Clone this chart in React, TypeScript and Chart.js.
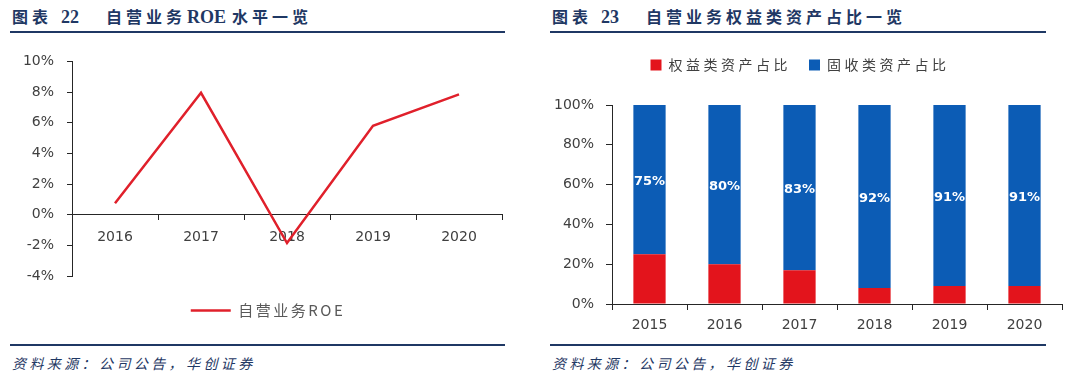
import React, { useEffect, useRef } from "react";
import { Chart, registerables } from "chart.js";
Chart.register(...registerables);

// ---------- data ----------
const roeYears = ["2016", "2017", "2018", "2019", "2020"];
const roeValues = [0.75, 7.95, -1.85, 5.8, 7.85];
const roeSeriesName = "自营业务ROE";
const roeTickMin = -4;
const roeTickMax = 10;
const roeTickStep = 2;

const assetYears = ["2015", "2016", "2017", "2018", "2019", "2020"];
const equityShare = [25, 20, 17, 8, 9, 9];
const fixedIncomeShare = [75, 80, 83, 92, 91, 91];
const equityName = "权益类资产占比";
const fixedIncomeName = "固收类资产占比";
const shareTickMin = 0;
const shareTickMax = 100;
const shareTickStep = 20;

const titleWord = "图表";
const leftTitleNo = "22";
const leftTitleA = "自营业务";
const leftTitleB = "ROE";
const leftTitleC = "水平一览";
const rightTitleNo = "23";
const rightTitle = "自营业务权益类资产占比一览";
const sourceText = "资料来源：公司公告，华创证券";

// ---------- styles ----------
const NAVY = "#1F3864";
const LINE_RED = "#E0202B";
const BAR_RED = "#E3141C";
const BAR_BLUE = "#0C5CB5";
const AXIS = "#262626";
const TICK_COLOR = "#404040";
const tickFont = { family: "'DejaVu Sans'", size: 14 };
const cjkFamily = "'Noto Sans CJK SC', 'Noto Sans', sans-serif";

const legendSpacingPlugin = {
  id: "legendSpacing",
  beforeLayout(chart: any, _args: any, opts: any) {
    const lg: any = chart.legend;
    if (!lg || lg._patched) return;
    lg._patched = true;
    const origFit = lg.fit.bind(lg);
    const origDraw = lg.draw.bind(lg);
    lg.fit = function () {
      const ctx: any = chart.ctx;
      ctx.save();
      ctx.letterSpacing = opts.spacing || "0px";
      origFit();
      ctx.restore();
      lg.height += opts.extra || 0;
    };
    lg.draw = function () {
      const ctx: any = chart.ctx;
      ctx.save();
      ctx.letterSpacing = opts.spacing || "0px";
      ctx.translate(opts.dx || 0, 0);
      origDraw();
      ctx.restore();
    };
  },
};

const barLabelPlugin = {
  id: "barLabels",
  afterDatasetsDraw(chart: any) {
    const meta = chart.getDatasetMeta(1);
    const ctx = chart.ctx;
    ctx.save();
    ctx.font = "bold 13px 'DejaVu Sans'";
    ctx.fillStyle = "#ffffff";
    ctx.textAlign = "center";
    ctx.textBaseline = "middle";
    meta.data.forEach((el: any, i: number) => {
      ctx.fillText(fixedIncomeShare[i] + "%", el.x, (el.y + el.base) / 2 + 2);
    });
    ctx.restore();
  },
};

function RoeChart() {
  const ref = useRef<HTMLCanvasElement>(null);
  useEffect(() => {
    const chart = new Chart(ref.current!, {
      type: "line",
      data: {
        labels: roeYears,
        datasets: [
          {
            label: roeSeriesName,
            data: roeValues,
            borderColor: LINE_RED,
            backgroundColor: LINE_RED,
            borderWidth: 2.5,
            pointRadius: 0,
            tension: 0,
          },
        ],
      },
      options: {
        animation: false,
        responsive: false,
        events: [],
        layout: { padding: { left: 0, right: 38, top: 18, bottom: 7 } },
        scales: {
          x: {
            type: "category",
            offset: true,
            position: { y: 0 } as any,
            grid: { offset: true, drawOnChartArea: false, drawTicks: true, tickLength: 5, color: AXIS },
            border: { color: AXIS, width: 1 },
            ticks: { padding: 9, font: tickFont, color: TICK_COLOR },
            afterFit: (s: any) => {
              s.height = 0;
            },
          },
          y: {
            min: roeTickMin,
            max: roeTickMax,
            ticks: {
              stepSize: roeTickStep,
              padding: 13,
              font: tickFont,
              color: TICK_COLOR,
              callback: (v: any) => v + "%",
            },
            grid: { drawOnChartArea: false, tickLength: 5, color: AXIS },
            border: { color: AXIS, width: 1 },
            afterFit: (s: any) => {
              s.width = 72;
            },
          },
        },
        plugins: {
          legend: {
            position: "bottom",
            labels: {
              usePointStyle: true,
              pointStyle: "line",
              pointStyleWidth: 40,
              padding: 27,
              font: { family: cjkFamily, size: 15 },
              color: "#595959",
            },
          },
          tooltip: { enabled: false },
          legendSpacing: { spacing: "2.5px", extra: 0, dx: 17 },
        } as any,
      },
      plugins: [legendSpacingPlugin],
    });
    return () => chart.destroy();
  }, []);
  return (
    <canvas
      ref={ref}
      width={540}
      height={295}
      style={{ position: "absolute", left: 0, top: 40, width: 540, height: 295 }}
    />
  );
}

function ShareChart() {
  const ref = useRef<HTMLCanvasElement>(null);
  useEffect(() => {
    const chart = new Chart(ref.current!, {
      type: "bar",
      data: {
        labels: assetYears,
        datasets: [
          {
            label: equityName,
            data: equityShare,
            backgroundColor: BAR_RED,
            barPercentage: 0.43,
            categoryPercentage: 1,
          },
          {
            label: fixedIncomeName,
            data: fixedIncomeShare,
            backgroundColor: BAR_BLUE,
            barPercentage: 0.43,
            categoryPercentage: 1,
          },
        ],
      },
      options: {
        animation: false,
        responsive: false,
        events: [],
        layout: { padding: { left: 18, right: 18, top: 0, bottom: 1 } },
        scales: {
          x: {
            stacked: true,
            grid: { offset: true, drawOnChartArea: false, tickLength: 6, color: AXIS },
            border: { color: AXIS, width: 1 },
            ticks: { padding: 7, font: tickFont, color: TICK_COLOR },
            afterFit: (s: any) => {
              s.height = 30;
            },
          },
          y: {
            stacked: true,
            min: shareTickMin,
            max: shareTickMax,
            ticks: {
              stepSize: shareTickStep,
              padding: 12,
              font: tickFont,
              color: TICK_COLOR,
              callback: (v: any) => v + "%",
            },
            grid: { drawOnChartArea: false, tickLength: 6, color: AXIS },
            border: { color: AXIS, width: 1 },
            afterFit: (s: any) => {
              s.width = 74;
            },
          },
        },
        plugins: {
          legend: {
            position: "top",
            labels: {
              boxWidth: 11,
              boxHeight: 11,
              padding: 18,
              font: { family: cjkFamily, size: 14 },
              color: "#404040",
            },
          },
          tooltip: { enabled: false },
          legendSpacing: { spacing: "3.5px", extra: 23, dx: 0 },
        } as any,
      },
      plugins: [legendSpacingPlugin, barLabelPlugin],
    });
    return () => chart.destroy();
  }, []);
  return (
    <canvas
      ref={ref}
      width={560}
      height={295}
      style={{ position: "absolute", left: 520, top: 40, width: 560, height: 295 }}
    />
  );
}

const titleStyle: React.CSSProperties = {
  position: "absolute",
  top: 6,
  lineHeight: "20px",
  fontSize: 16,
  fontWeight: 700,
  color: NAVY,
  fontFamily: cjkFamily,
  letterSpacing: "4px",
  whiteSpace: "nowrap",
};
const numStyle: React.CSSProperties = {
  letterSpacing: "0px",
  fontFamily: "'Liberation Serif', serif",
  fontSize: 18,
};
const sourceStyle: React.CSSProperties = {
  position: "absolute",
  top: 354,
  lineHeight: "18px",
  fontSize: 14,
  fontStyle: "italic",
  color: NAVY,
  fontFamily: cjkFamily,
  letterSpacing: "3.4px",
  whiteSpace: "nowrap",
};
const rule = (left: number, top: number, width: number): React.CSSProperties => ({
  position: "absolute",
  left,
  top,
  width,
  height: 2,
  background: NAVY,
});

export default function App() {
  return (
    <div
      style={{
        position: "absolute",
        left: 0,
        top: 0,
        width: 1080,
        height: 382,
        background: "#ffffff",
        overflow: "hidden",
      }}
    >
      <div style={{ ...titleStyle, left: 12 }}>{titleWord}</div>
      <div style={{ ...titleStyle, left: 61 }}><span style={numStyle}>{leftTitleNo}</span></div>
      <div style={{ ...titleStyle, left: 106 }}>
        {leftTitleA}
        <span style={{ ...numStyle, marginLeft: 1, marginRight: 6 }}>{leftTitleB}</span>
        {leftTitleC}
      </div>
      <div style={{ ...titleStyle, left: 552 }}>{titleWord}</div>
      <div style={{ ...titleStyle, left: 601 }}><span style={numStyle}>{rightTitleNo}</span></div>
      <div style={{ ...titleStyle, left: 646 }}>{rightTitle}</div>
      <div style={rule(10, 31, 495)} />
      <div style={rule(550, 31, 496)} />
      <RoeChart />
      <ShareChart />
      <div style={rule(10, 344, 495)} />
      <div style={rule(550, 344, 496)} />
      <div style={{ ...sourceStyle, left: 12 }}>{sourceText}</div>
      <div style={{ ...sourceStyle, left: 552 }}>{sourceText}</div>
    </div>
  );
}
